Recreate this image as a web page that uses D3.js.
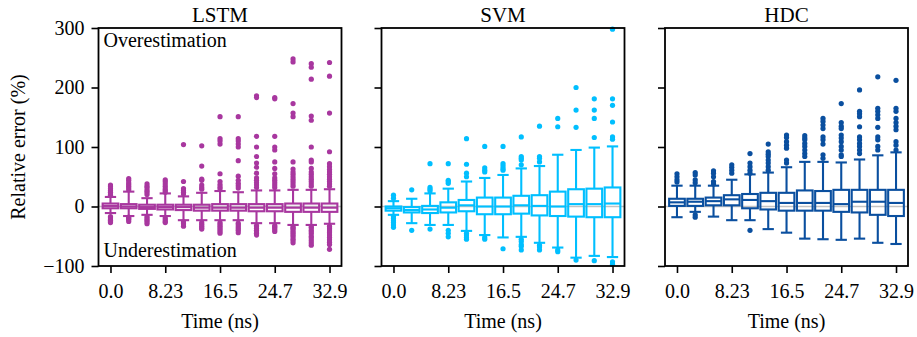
<!DOCTYPE html>
<html>
<head>
<meta charset="utf-8">
<script src="https://cdn.jsdelivr.net/npm/d3@7"></script>
<style>
  body { margin: 0; background: #fff; }
  text { font-family: "Liberation Serif", "DejaVu Serif", serif; fill: #000; }
</style>
</head>
<body>
<div id="chart"></div>
<script>
// time steps (ns) of the 13 boxes
const times = [0, 2.74, 5.49, 8.23, 10.97, 13.71, 16.46, 19.2, 21.94, 24.68, 27.43, 30.17, 32.91];
const xTickValues = [0, 8.23, 16.46, 24.68, 32.91];
const xTickLabels = ['0.0', '8.23', '16.5', '24.7', '32.9'];
const yTickValues = [-100, 0, 100, 200, 300];

// LSTM
const lstmQ1 = [-3, -3, -4, -5, -6, -7, -7, -7, -8, -8, -9, -9, -9];
const lstmMed = [1, 0, -1, -1, -1, -2, -2, -2, -2, -2, -2, -2, -2];
const lstmQ3 = [5, 4, 3, 3, 3, 3, 4, 4, 4, 4, 5, 5, 5];
const lstmHi = [16, 25, 14, 22, 17, 23, 26, 24, 27, 27, 28, 28, 29];
const lstmLo = [-11, -16, -14, -16, -23, -23, -23, -23, -28, -28, -31, -31, -29];
const lstmOut = [
  [36, 33, 30, 27, 24, 21, 19, -17, -19, -21, -23, -25, -27],
  [47, 44, 40, 37, 34, 31, 28, -18, -20, -22, -25],
  [38, 34, 31, 27, 24, 20, -17, -20, -23, -26, -29],
  [45, 42, 38, 34, 30, 27, 24, -19, -22, -25, -27],
  [104, 42, 30, 27, 24, 21, -26, -29, -33],
  [102, 68, 46, 44, 36, 32, 29, -27, -30, -33, -36, -38],
  [151, 114, 110, 105, 55, 42, 37, 33, 30, -27, -30, -33, -36, -39, -42, -45],
  [151, 114, 110, 105, 100, 77, 51, 44, 39, 35, 31, -28, -31, -34, -37, -40, -44],
  [186, 183, 118, 100, 84, 73, 66, 56, 48, 44, 40, 36, 32, -32, -34, -37, -40, -43, -45, -48],
  [183, 181, 118, 100, 95, 75, 64, 55, 48, 44, 40, 36, 32, -32, -34, -36, -39, -42],
  [248, 243, 173, 157, 151, 75, 63, 58, 54, 50, 46, 42, 38, 34, -34, -36, -38, -41, -44, -47, -50, -54, -57, -61],
  [240, 234, 214, 152, 145, 100, 78, 75, 64, 58, 54, 50, 46, 42, 38, 34, -34, -36, -40, -43, -46, -50, -53, -57, -61, -65],
  [242, 219, 157, 92, 72, 67, 62, 58, 54, 50, 46, 42, 38, 34, -33, -36, -38, -41, -44, -48, -52, -56, -60, -64, -72],
];

// SVM
const svmQ1 = [-7, -10, -11, -10, -8, -13, -13, -12, -15, -16, -17, -18, -18];
const svmMed = [-3, -6, -5, -2, 2, 0, 0, 2, 1, 0, 4, 4, 5];
const svmQ3 = [0, -1, 1, 7, 11, 15, 15, 18, 19, 25, 29, 30, 32];
const svmHi = [9, 13, 22, 30, 42, 48, 53, 64, 68, 87, 95, 99, 101];
const svmLo = [-14, -28, -31, -31, -41, -48, -52, -51, -61, -69, -86, -83, -85];
const svmOut = [
  [19, 14, -17, -20, -24, -27, -31, -35],
  [28, -40],
  [72, 32, 29, 26, -38],
  [72, 44, 42, 39, -40, -45, -51],
  [114, 71, 56, 50, -45, -48, -52, -55],
  [101, 65, 61, 58, -52, -55],
  [101, 72, 68, 64, 61, -71],
  [117, 84, 81, 78, 70, -55, -59, -64, -67, -73],
  [135, 84, 81, 75, -65, -68, -73],
  [148, 134, -73, -76],
  [200, 162, 133, -90],
  [181, 162, 148, 116, -91],
  [298, 181, 170, 142, 117, 113, -93, -97],
];

// HDC
const hdcQ1 = [1, 1, 2, 2, -3, -5, -7, -7, -7, -9, -10, -14, -16];
const hdcMed = [7, 8, 9, 12, 11, 9, 6, 6, 6, 4, 8, 8, 6];
const hdcQ3 = [13, 13, 15, 19, 21, 23, 23, 27, 26, 28, 28, 28, 28];
const hdcHi = [35, 35, 35, 45, 54, 57, 66, 75, 75, 74, 79, 86, 91];
const hdcLo = [-18, -9, -17, -23, -23, -38, -44, -54, -55, -56, -54, -61, -63];
const hdcOut = [
  [55, 50, 45, 41],
  [57, 53, 45, 40, -14, -18],
  [60, 56, 50, 42, 38],
  [70, 66, 61, 56],
  [89, 73, 67, 61, 56, -40],
  [105, 92, 88, 84, 78, 73, 67, 61],
  [120, 116, 109, 103, 98, 78, 73],
  [119, 115, 112, 106, 101, 95, 89, 84],
  [148, 143, 137, 131, 117, 112, 105, 87, 81],
  [173, 141, 135, 131, 120, 115, 109, 101, 95, 87, 84],
  [196, 160, 156, 151, 134, 117, 112, 106, 101, 95, 89],
  [218, 165, 160, 154, 148, 133, 117, 112, 101, 95],
  [212, 165, 160, 148, 141, 135, 129, 109, 103, 95],
];

const panels = [
  { title: 'LSTM', color: '#a8379f', q1: lstmQ1, med: lstmMed, q3: lstmQ3, lo: lstmLo, hi: lstmHi, out: lstmOut },
  { title: 'SVM', color: '#00bfff', q1: svmQ1, med: svmMed, q3: svmQ3, lo: svmLo, hi: svmHi, out: svmOut },
  { title: 'HDC', color: '#0a4f9f', q1: hdcQ1, med: hdcMed, q3: hdcQ3, lo: hdcLo, hi: hdcHi, out: hdcOut },
];

const W = 917, H = 337;
const panelLefts = [98.5, 381.5, 665];
const panelTop = 28, pw = 243, ph = 238;
const fontSize = 20;

const svg = d3.select('#chart').append('svg')
  .attr('width', W)
  .attr('height', H);

const xScale = d3.scaleLinear().domain([-1.8, 34.71]).range([0, pw]);
const yScale = d3.scaleLinear().domain([-100, 300]).range([ph, 0]);
const step = xScale(times[1]) - xScale(times[0]);
const boxW = step * 0.86;
const capW = boxW * 0.72;
const fmtMinus = (d) => String(d).replace('-', '\u2212');

panels.forEach((p, pi) => {
  const g = svg.append('g').attr('transform', `translate(${panelLefts[pi]},${panelTop})`);

  // zero reference line
  g.append('line')
    .attr('x1', 0).attr('x2', pw)
    .attr('y1', yScale(0)).attr('y2', yScale(0))
    .attr('stroke', '#c2c2c2')
    .attr('stroke-width', 1.6);

  const boxes = g.selectAll('.box')
    .data(times.map((t, i) => ({ t, i })))
    .enter()
    .append('g')
    .attr('class', 'box')
    .attr('stroke', p.color)
    .attr('stroke-width', 2.1)
    .attr('fill', 'none');

  // whiskers
  boxes.append('line')
    .attr('x1', (d) => xScale(d.t)).attr('x2', (d) => xScale(d.t))
    .attr('y1', (d) => yScale(p.q3[d.i])).attr('y2', (d) => yScale(p.hi[d.i]));
  boxes.append('line')
    .attr('x1', (d) => xScale(d.t)).attr('x2', (d) => xScale(d.t))
    .attr('y1', (d) => yScale(p.q1[d.i])).attr('y2', (d) => yScale(p.lo[d.i]));
  // caps
  boxes.append('line')
    .attr('x1', (d) => xScale(d.t) - capW / 2).attr('x2', (d) => xScale(d.t) + capW / 2)
    .attr('y1', (d) => yScale(p.hi[d.i])).attr('y2', (d) => yScale(p.hi[d.i]));
  boxes.append('line')
    .attr('x1', (d) => xScale(d.t) - capW / 2).attr('x2', (d) => xScale(d.t) + capW / 2)
    .attr('y1', (d) => yScale(p.lo[d.i])).attr('y2', (d) => yScale(p.lo[d.i]));
  // box
  boxes.append('rect')
    .attr('x', (d) => xScale(d.t) - boxW / 2)
    .attr('width', boxW)
    .attr('y', (d) => yScale(p.q3[d.i]))
    .attr('height', (d) => yScale(p.q1[d.i]) - yScale(p.q3[d.i]));
  // median
  boxes.append('line')
    .attr('x1', (d) => xScale(d.t) - boxW / 2).attr('x2', (d) => xScale(d.t) + boxW / 2)
    .attr('y1', (d) => yScale(p.med[d.i])).attr('y2', (d) => yScale(p.med[d.i]));
  // fliers
  boxes.selectAll('circle')
    .data((d) => p.out[d.i].map((v) => ({ t: d.t, v })))
    .enter()
    .append('circle')
    .attr('cx', (d) => xScale(d.t))
    .attr('cy', (d) => yScale(d.v))
    .attr('r', 2.6)
    .attr('stroke', 'none')
    .attr('fill', p.color);

  // axes
  const xAxis = g.append('g')
    .attr('transform', `translate(0,${ph})`)
    .call(d3.axisBottom(xScale)
      .tickValues(xTickValues)
      .tickFormat((d, i) => xTickLabels[i])
      .tickSize(7)
      .tickPadding(11));
  const yAxis = g.append('g')
    .call(d3.axisLeft(yScale)
      .tickValues(yTickValues)
      .tickFormat((d) => (pi === 0 ? fmtMinus(d) : ''))
      .tickSize(7)
      .tickPadding(7));
  [xAxis, yAxis].forEach((a) => {
    a.select('.domain').remove();
    a.attr('font-family', null).attr('font-size', null);
    a.selectAll('line').attr('stroke', '#000').attr('stroke-width', 1.6);
    a.selectAll('text').style('font-size', `${fontSize}px`);
  });

  // frame
  g.append('rect')
    .attr('width', pw)
    .attr('height', ph)
    .attr('fill', 'none')
    .attr('stroke', '#000')
    .attr('stroke-width', 1.8);

  // title
  g.append('text')
    .attr('x', pw / 2)
    .attr('y', -6)
    .attr('text-anchor', 'middle')
    .style('font-size', '21px')
    .text(p.title);

  // x label
  g.append('text')
    .attr('x', pw / 2)
    .attr('y', ph + 62)
    .attr('text-anchor', 'middle')
    .style('font-size', '20px')
    .text('Time (ns)');

  if (pi === 0) {
    g.append('text')
      .attr('x', 5)
      .attr('y', 19)
      .style('font-size', '20px')
      .text('Overestimation');
    g.append('text')
      .attr('x', 5)
      .attr('y', ph - 9)
      .style('font-size', '20px')
      .text('Underestimation');
    g.append('text')
      .attr('transform', `translate(${-74},${ph / 2}) rotate(-90)`)
      .attr('text-anchor', 'middle')
      .style('font-size', '20px')
      .text('Relative error (%)');
  }
});
</script>
</body>
</html>
